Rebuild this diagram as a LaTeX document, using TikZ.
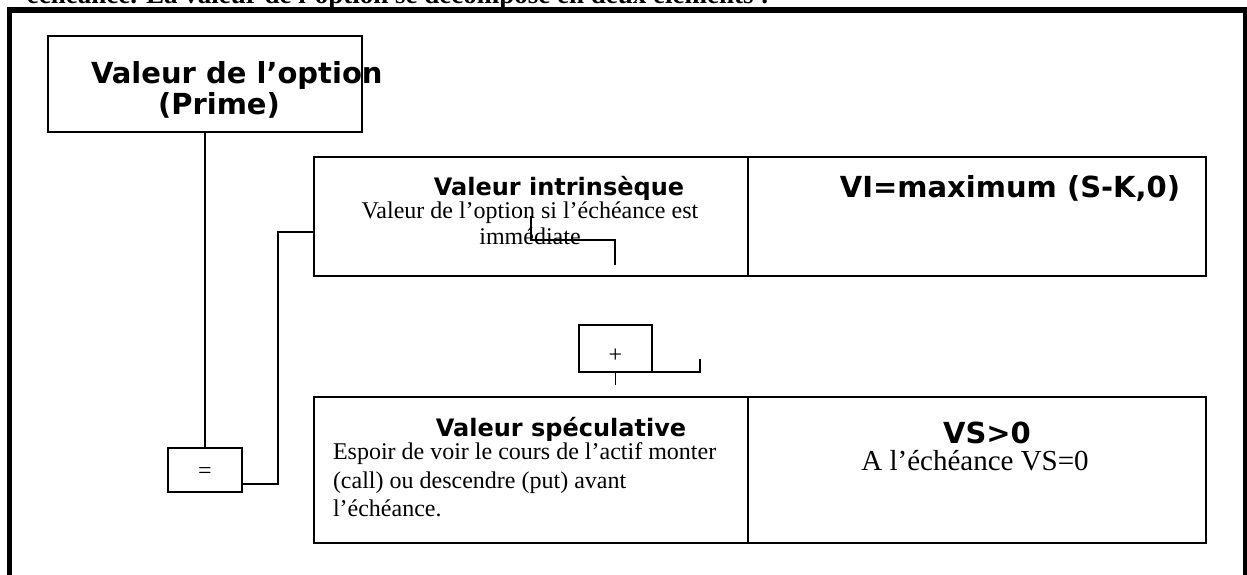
\documentclass[tikz,border=0pt]{standalone}
\usepackage{fontspec}
\setmainfont{Liberation Serif}
\newfontfamily\titlefont{DejaVu Sans}
\usetikzlibrary{calc}
\begin{document}
\begin{tikzpicture}[x=1pt,y=-1pt,
  cell/.style={draw,line width=1.6pt,inner sep=0pt,outer sep=0pt},
  conn/.style={draw,line width=1.6pt},
  txt/.style={inner sep=0pt,outer sep=0pt},
  bigtitle/.style={txt,font=\titlefont\bfseries\fontsize{29}{29}\selectfont},
  midtitle/.style={txt,font=\titlefont\bfseries\fontsize{24}{24}\selectfont},
  body/.style={txt,font=\fontsize{24}{28}\selectfont}]
\useasboundingbox (0,0) rectangle (1247,575);
\clip (0,0) rectangle (1247,575);
% cut top text and frame
\node[txt,anchor=base west,font=\bfseries\fontsize{27}{27}\selectfont] (toptext) at (27,4) {échéance. La valeur de l’option se décompose en deux éléments :};
\fill[white] (0,7) rectangle (1247,575);
\draw[line width=5.5pt] (9.5,640) -- (9.5,10) -- (1245.5,10) -- (1245.5,640);
% boxes
\node[cell,minimum width=314pt,minimum height=96pt] (prime) at (205,84) {};
\node[cell,minimum width=74pt,minimum height=44pt] (eq) at (205,470) {};
\node[cell,minimum width=73pt,minimum height=47pt] (plus) at (615.5,348.5) {};
\node[cell,minimum width=434pt,minimum height=119pt] (intrL) at (531,216.5) {};
\node[cell,minimum width=458pt,minimum height=119pt] (intrR) at (977,216.5) {};
\node[cell,minimum width=434pt,minimum height=146pt] (specL) at (531,470) {};
\node[cell,minimum width=458pt,minimum height=146pt] (specR) at (977,470) {};
% texts
\node[bigtitle,anchor=base west] (p1) at (91,84) {Valeur de l’option};
\node[bigtitle,anchor=base west] (p2) at (158,115) {(Prime)};
\node[body,anchor=base] (eqs) at (205,478) {=};
\node[body,anchor=base] (pls) at (615.5,362) {+};
\node[midtitle,anchor=base] (t1) at (559,195) {Valeur intrinsèque};
\node[body,anchor=base] (t1a) at (530,218) {Valeur de l’option si l’échéance est};
\node[body,anchor=base] (t1b) at (530,244) {immédiate};
\node[bigtitle,anchor=base] (vi) at (1010,197) {VI=maximum (S-K,0)};
\node[midtitle,anchor=base] (t2) at (561,436) {Valeur spéculative};
\node[body,anchor=base west] (t2a) at (333,459) {Espoir de voir le cours de l’actif monter};
\node[body,anchor=base west] (t2b) at (333,488) {(call) ou descendre (put) avant};
\node[body,anchor=base west] (t2c) at (333,516) {l’échéance.};
\node[bigtitle,anchor=base] (vs) at (987,443) {VS>0};
\node[body,anchor=base,font=\fontsize{29}{29}\selectfont] (vs2) at (975,470) {A l’échéance VS=0};
% connectors
\draw[conn] (prime.south) -- (eq.north);
\coordinate (eqout) at ($(eq.south east)+(0,-8)$);
\coordinate (j1) at (278,232);
\draw[conn] (eqout) -| (j1) -- (intrL.west |- j1);
\coordinate (bk1) at (531,216);
\coordinate (bk2) at (615,240);
\coordinate (bk3) at (615,265);
\draw[conn] (bk1) |- (bk2) -- (bk3);
\coordinate (pe) at (700,359);
\draw[conn] (plus.south east) -| (pe);
\coordinate (pd) at (615.5,385);
\draw[conn] (plus.south) -- (pd);
\end{tikzpicture}
\end{document}
